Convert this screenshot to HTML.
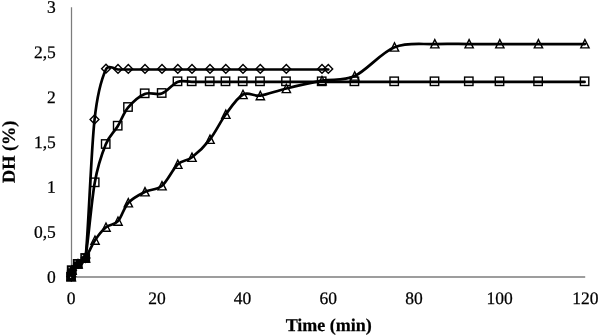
<!DOCTYPE html>
<html><head><meta charset="utf-8"><title>DH vs Time</title>
<style>
html,body{margin:0;padding:0;background:#fff;}
body{width:600px;height:336px;overflow:hidden;position:relative;font-family:"Liberation Serif","Times New Roman",serif;color:#000;}
svg{position:absolute;left:0;top:0;display:block;}
text{font-family:"Liberation Serif","Times New Roman",serif;fill:#000;stroke:#000;stroke-width:0.25px;}
.b{font-weight:bold;}
</style></head><body>
<svg width="600" height="336" viewBox="0 0 600 336">
<rect width="600" height="336" fill="#fff"/>
<line x1="71.5" y1="7.2" x2="71.5" y2="277" stroke="#7c7c7c" stroke-width="1.25"/>
<line x1="71" y1="277" x2="585.2" y2="277" stroke="#7c7c7c" stroke-width="1.5"/>
<text text-anchor="end" font-size="17.5" transform="translate(55.8,12.8) rotate(0.03) scale(1.0,1.0)">3</text>
<text text-anchor="end" font-size="17.5" transform="translate(55.8,58.1) rotate(0.03) scale(1.0,1.0)">2,5</text>
<text text-anchor="end" font-size="17.5" transform="translate(55.8,103.0) rotate(0.03) scale(1.0,1.0)">2</text>
<text text-anchor="end" font-size="17.5" transform="translate(55.8,147.9) rotate(0.03) scale(1.0,1.0)">1,5</text>
<text text-anchor="end" font-size="17.5" transform="translate(55.8,192.8) rotate(0.03) scale(1.0,1.0)">1</text>
<text text-anchor="end" font-size="17.5" transform="translate(55.8,237.7) rotate(0.03) scale(1.0,1.0)">0,5</text>
<text text-anchor="end" font-size="17.5" transform="translate(55.8,282.8) rotate(0.03) scale(1.0,1.0)">0</text>
<text text-anchor="middle" font-size="17.5" transform="translate(71.2,303.9) rotate(0.03) scale(1.0,1.0)">0</text>
<text text-anchor="middle" font-size="17.5" transform="translate(157,303.9) rotate(0.03) scale(1.0,1.0)">20</text>
<text text-anchor="middle" font-size="17.5" transform="translate(242.6,303.9) rotate(0.03) scale(1.0,1.0)">40</text>
<text text-anchor="middle" font-size="17.5" transform="translate(328.3,303.9) rotate(0.03) scale(1.0,1.0)">60</text>
<text text-anchor="middle" font-size="17.5" transform="translate(414,303.9) rotate(0.03) scale(1.0,1.0)">80</text>
<text text-anchor="middle" font-size="17.5" transform="translate(499.7,303.9) rotate(0.03) scale(1.0,1.0)">100</text>
<text text-anchor="middle" font-size="17.5" transform="translate(585.3,303.9) rotate(0.03) scale(1.0,1.0)">120</text>
<text class="b" text-anchor="middle" font-size="18" transform="translate(328.75,330.9) rotate(0.03) scale(1,1)">Time (min)</text>
<text class="b" text-anchor="middle" font-size="18.3" transform="translate(14.7,151.8) rotate(-89.97) scale(1,1)">DH (%)</text>
<path d="M71.30,277.20 C71.53,275.07 70.88,272.92 72.00,270.80 C73.12,268.68 75.75,266.53 78.00,264.50 C78.44,264.10 84.96,263.34 85.50,258.60 C88.25,234.53 91.08,151.65 94.50,120.10 C97.30,94.21 102.79,76.22 106.00,69.30 C108.53,63.86 115.60,69.48 118.00,69.50 C121.72,69.53 123.80,69.50 128.30,69.50 C132.80,69.50 139.38,69.50 145.00,69.50 C150.62,69.50 156.53,69.50 162.00,69.50 C167.47,69.50 172.80,69.50 177.80,69.50 C182.80,69.50 186.63,69.50 192.00,69.50 C197.37,69.50 204.37,69.50 210.00,69.50 C215.63,69.50 220.30,69.50 225.80,69.50 C231.30,69.50 237.25,69.50 243.00,69.50 C248.75,69.50 253.08,69.50 260.30,69.50 C267.52,69.50 276.02,69.50 286.30,69.50 C296.58,69.50 315.00,69.50 322.00,69.50 C325.15,69.50 327.83,69.50 328.30,69.50" fill="none" stroke="#000" stroke-width="2.7" stroke-linecap="round" stroke-linejoin="round"/>
<path d="M71.00,277.20 C71.23,275.07 70.58,272.92 71.70,270.80 C72.82,268.68 75.45,266.53 77.70,264.50 C78.47,263.80 84.23,263.27 85.20,258.60 C88.03,245.00 91.28,201.90 94.70,182.90 C98.12,163.90 101.87,154.03 105.70,144.60 C109.53,135.17 113.98,132.47 117.70,126.30 C121.42,120.13 123.50,113.00 128.00,107.60 C132.50,102.20 139.08,96.23 144.70,93.90 C150.32,91.57 156.23,95.60 161.70,93.60 C167.17,91.60 172.50,83.85 177.50,81.90 C182.50,79.95 186.33,81.90 191.70,81.90 C197.07,81.90 204.07,81.90 209.70,81.90 C215.33,81.90 220.00,81.90 225.50,81.90 C231.00,81.90 236.95,81.90 242.70,81.90 C248.45,81.90 252.78,81.90 260.00,81.90 C267.22,81.90 275.72,81.90 286.00,81.90 C296.28,81.90 310.30,81.90 321.70,81.90 C333.10,81.90 342.32,81.90 354.40,81.90 C366.48,81.90 380.85,81.90 394.20,81.90 C407.55,81.90 422.07,81.90 434.50,81.90 C446.93,81.90 457.97,81.90 468.80,81.90 C479.63,81.90 487.95,81.90 499.50,81.90 C511.05,81.90 523.92,81.90 538.10,81.90 C552.28,81.90 569.10,81.90 584.60,81.90" fill="none" stroke="#000" stroke-width="2.7" stroke-linecap="round" stroke-linejoin="round"/>
<path d="M71.30,276.60 C71.53,274.47 70.88,272.32 72.00,270.20 C73.12,268.08 75.75,265.93 78.00,263.90 C80.21,261.90 82.72,261.88 85.50,258.00 C88.33,254.05 91.58,245.33 95.00,240.20 C98.42,235.07 102.17,230.37 106.00,227.20 C109.83,224.03 114.28,225.27 118.00,221.20 C121.72,217.13 123.80,207.70 128.30,202.80 C132.80,197.90 139.38,194.63 145.00,191.80 C150.62,188.97 156.53,190.38 162.00,185.80 C167.47,181.22 172.80,169.05 177.80,164.30 C182.80,159.55 186.63,161.47 192.00,157.30 C197.37,153.13 204.37,146.47 210.00,139.30 C215.63,132.13 220.30,121.77 225.80,114.30 C231.30,106.83 237.25,97.62 243.00,94.50 C248.75,91.38 253.08,96.60 260.30,95.60 C267.52,94.60 276.02,90.98 286.30,88.50 C296.58,86.02 310.60,82.78 322.00,80.70 C333.40,78.62 342.62,81.58 354.70,76.00 C366.78,70.42 381.15,52.58 394.50,47.25 C407.85,41.92 422.37,44.58 434.80,44.05 C447.23,43.52 458.27,44.05 469.10,44.05 C479.93,44.05 488.25,44.05 499.80,44.05 C511.35,44.05 524.22,44.05 538.40,44.05 C552.58,44.05 569.40,44.05 584.90,44.05" fill="none" stroke="#000" stroke-width="2.7" stroke-linecap="round" stroke-linejoin="round"/>
<g fill="none" stroke="#000" stroke-width="1.4"><path d="M66.9,276.6 l4.4,-4.4 l4.4,4.4 l-4.4,4.4 z"/><path d="M67.6,270.2 l4.4,-4.4 l4.4,4.4 l-4.4,4.4 z"/><path d="M73.6,263.9 l4.4,-4.4 l4.4,4.4 l-4.4,4.4 z"/><path d="M81.1,258.0 l4.4,-4.4 l4.4,4.4 l-4.4,4.4 z"/><path d="M90.1,119.5 l4.4,-4.4 l4.4,4.4 l-4.4,4.4 z"/><path d="M101.6,68.7 l4.4,-4.4 l4.4,4.4 l-4.4,4.4 z"/><path d="M113.6,68.9 l4.4,-4.4 l4.4,4.4 l-4.4,4.4 z"/><path d="M123.9,68.9 l4.4,-4.4 l4.4,4.4 l-4.4,4.4 z"/><path d="M140.6,68.9 l4.4,-4.4 l4.4,4.4 l-4.4,4.4 z"/><path d="M157.6,68.9 l4.4,-4.4 l4.4,4.4 l-4.4,4.4 z"/><path d="M173.4,68.9 l4.4,-4.4 l4.4,4.4 l-4.4,4.4 z"/><path d="M187.6,68.9 l4.4,-4.4 l4.4,4.4 l-4.4,4.4 z"/><path d="M205.6,68.9 l4.4,-4.4 l4.4,4.4 l-4.4,4.4 z"/><path d="M221.4,68.9 l4.4,-4.4 l4.4,4.4 l-4.4,4.4 z"/><path d="M238.6,68.9 l4.4,-4.4 l4.4,4.4 l-4.4,4.4 z"/><path d="M255.9,68.9 l4.4,-4.4 l4.4,4.4 l-4.4,4.4 z"/><path d="M281.9,68.9 l4.4,-4.4 l4.4,4.4 l-4.4,4.4 z"/><path d="M317.6,68.9 l4.4,-4.4 l4.4,4.4 l-4.4,4.4 z"/><path d="M323.9,68.9 l4.4,-4.4 l4.4,4.4 l-4.4,4.4 z"/><rect x="66.8" y="272.4" width="8.4" height="8.4"/><rect x="67.5" y="266.0" width="8.4" height="8.4"/><rect x="73.5" y="259.7" width="8.4" height="8.4"/><rect x="81.0" y="253.8" width="8.4" height="8.4"/><rect x="90.5" y="178.1" width="8.4" height="8.4"/><rect x="101.5" y="139.8" width="8.4" height="8.4"/><rect x="113.5" y="121.5" width="8.4" height="8.4"/><rect x="123.8" y="102.8" width="8.4" height="8.4"/><rect x="140.5" y="89.1" width="8.4" height="8.4"/><rect x="157.5" y="88.8" width="8.4" height="8.4"/><rect x="173.3" y="77.1" width="8.4" height="8.4"/><rect x="187.5" y="77.1" width="8.4" height="8.4"/><rect x="205.5" y="77.1" width="8.4" height="8.4"/><rect x="221.3" y="77.1" width="8.4" height="8.4"/><rect x="238.5" y="77.1" width="8.4" height="8.4"/><rect x="255.8" y="77.1" width="8.4" height="8.4"/><rect x="281.8" y="77.1" width="8.4" height="8.4"/><rect x="317.5" y="77.1" width="8.4" height="8.4"/><rect x="350.2" y="77.1" width="8.4" height="8.4"/><rect x="390.0" y="77.1" width="8.4" height="8.4"/><rect x="430.3" y="77.1" width="8.4" height="8.4"/><rect x="464.6" y="77.1" width="8.4" height="8.4"/><rect x="495.3" y="77.1" width="8.4" height="8.4"/><rect x="533.9" y="77.1" width="8.4" height="8.4"/><rect x="580.4" y="77.1" width="8.4" height="8.4"/><path d="M71.3,272.4 l4.2,8.3 l-8.3,0 z"/><path d="M72.0,266.0 l4.2,8.3 l-8.3,0 z"/><path d="M78.0,259.7 l4.2,8.3 l-8.3,0 z"/><path d="M85.5,253.8 l4.2,8.3 l-8.3,0 z"/><path d="M95.0,236.0 l4.2,8.3 l-8.3,0 z"/><path d="M106.0,223.0 l4.2,8.3 l-8.3,0 z"/><path d="M118.0,217.0 l4.2,8.3 l-8.3,0 z"/><path d="M128.3,198.6 l4.2,8.3 l-8.3,0 z"/><path d="M145.0,187.6 l4.2,8.3 l-8.3,0 z"/><path d="M162.0,181.6 l4.2,8.3 l-8.3,0 z"/><path d="M177.8,160.1 l4.2,8.3 l-8.3,0 z"/><path d="M192.0,153.1 l4.2,8.3 l-8.3,0 z"/><path d="M210.0,135.1 l4.2,8.3 l-8.3,0 z"/><path d="M225.8,110.1 l4.2,8.3 l-8.3,0 z"/><path d="M243.0,90.3 l4.2,8.3 l-8.3,0 z"/><path d="M260.3,91.4 l4.2,8.3 l-8.3,0 z"/><path d="M286.3,84.3 l4.2,8.3 l-8.3,0 z"/><path d="M322.0,76.5 l4.2,8.3 l-8.3,0 z"/><path d="M354.7,71.8 l4.2,8.3 l-8.3,0 z"/><path d="M394.5,42.8 l4.2,8.3 l-8.3,0 z"/><path d="M434.8,39.6 l4.2,8.3 l-8.3,0 z"/><path d="M469.1,39.6 l4.2,8.3 l-8.3,0 z"/><path d="M499.8,39.6 l4.2,8.3 l-8.3,0 z"/><path d="M538.4,39.6 l4.2,8.3 l-8.3,0 z"/><path d="M584.9,39.6 l4.2,8.3 l-8.3,0 z"/></g>
<g fill="#000"><rect x="67.1" y="272.4" width="8.4" height="8.4"/><rect x="67.8" y="266.0" width="8.4" height="8.4"/><rect x="73.8" y="259.7" width="8.4" height="8.4"/><rect x="81.3" y="253.8" width="8.4" height="8.4"/></g>
<g fill="#c8c8c8"><circle cx="70.6" cy="277.3" r="0.65"/><circle cx="69.2" cy="267.7" r="0.65"/><circle cx="75.1" cy="261.1" r="0.65"/><circle cx="82.6" cy="255.5" r="0.65"/></g>
</svg>
</body></html>
